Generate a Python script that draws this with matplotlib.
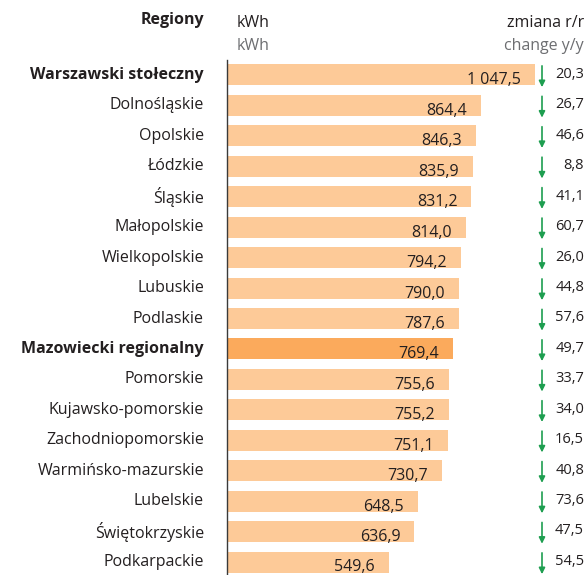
import matplotlib.pyplot as plt
from matplotlib.transforms import blended_transform_factory

regions = ["Warszawski stołeczny", "Dolnośląskie", "Opolskie", "Łódzkie", "Śląskie",
           "Małopolskie", "Wielkopolskie", "Lubuskie", "Podlaskie", "Mazowiecki regionalny",
           "Pomorskie", "Kujawsko-pomorskie", "Zachodniopomorskie", "Warmińsko-mazurskie",
           "Lubelskie", "Świętokrzyskie", "Podkarpackie"]
kwh = [1047.5, 864.4, 846.3, 835.9, 831.2, 814.0, 794.2, 790.0, 787.6, 769.4,
       755.6, 755.2, 751.1, 730.7, 648.5, 636.9, 549.6]
change = [20.3, 26.7, 46.6, 8.8, 41.1, 60.7, 26.0, 44.8, 57.6, 49.7,
          33.7, 34.0, 16.5, 40.8, 73.6, 47.5, 54.5]
bold_regions = ["Warszawski stołeczny", "Mazowiecki regionalny"]
highlight = "Mazowiecki regionalny"

plt.rcParams['font.family'] = ['Open Sans', 'DejaVu Sans']

W, H = 586, 575
fig = plt.figure(figsize=(W / 100, H / 100), dpi=100)

x0, y_top, y_bot = 227, 60, 575
ax = fig.add_axes([x0 / W, 0, 1 - x0 / W, (H - y_top) / H])
px_per_kwh = (535 - x0) / 1047.5
ax.set_xlim(0, (W - x0) / px_per_kwh)
row = 30.44
n = len(regions)
ax.set_ylim((n - 1) + 13 / row, -15 / row)

light = "#FDCA98"
dark = "#FBAA5C"
txt = "#231F20"
grey = "#6D6E71"
green = "#1E9E50"

ys = list(range(n))
colors = [dark if r == highlight else light for r in regions]
ax.barh(ys, kwh, height=0.69, color=colors, edgecolor="none")

def fmt(v):
    return f"{v:,.1f}".replace(",", " ").replace(".", ",")

for y, v in zip(ys, kwh):
    ax.text(v - 14 / px_per_kwh, y + 0.18, fmt(v), ha="right", va="center",
            fontsize=11.5, color=txt)

for s in ["top", "right", "bottom"]:
    ax.spines[s].set_visible(False)
ax.spines["left"].set_color("#3a3a3a")
ax.spines["left"].set_linewidth(1.0)
ax.set_xticks([])
ax.set_yticks([])

trans = blended_transform_factory(ax.transAxes, ax.transData)
ax_w = W - x0
ax_arrow = (542 - x0) / ax_w
ax_val = (584 - x0) / ax_w
for y, c in zip(ys, change):
    ax.annotate("", xy=(ax_arrow, y + 0.4), xytext=(ax_arrow, y - 0.3),
                xycoords=trans, textcoords=trans,
                arrowprops=dict(arrowstyle="-|>", color=green, lw=1.2,
                                mutation_scale=9, shrinkA=0, shrinkB=0))
    ax.text(ax_val, y - 0.02, f"{c:.1f}".replace(".", ","), transform=trans,
            ha="right", va="center", fontsize=10.5, color=txt, clip_on=False)

lab_x = 204 / W
for y, r in zip(ys, regions):
    yf = 1 - (y_top + 15 + y * row) / H
    fig.text(lab_x, yf, r, ha="right", va="center", fontsize=11.5, color=txt,
             fontweight="bold" if r in bold_regions else "normal")

fig.text(lab_x, 1 - 20 / H, "Regiony", ha="right", va="center", fontsize=11.5,
         color=txt, fontweight="bold")
fig.text(237 / W, 1 - 23 / H, "kWh", ha="left", va="center", fontsize=11.5, color=txt)
fig.text(237 / W, 1 - 46 / H, "kWh", ha="left", va="center", fontsize=11.5, color=grey)
fig.text(584 / W, 1 - 23 / H, "zmiana r/r", ha="right", va="center", fontsize=11.5, color=txt)
fig.text(584 / W, 1 - 46 / H, "change y/y", ha="right", va="center", fontsize=11.5, color=grey)

fig.savefig("out.png", dpi=100)
